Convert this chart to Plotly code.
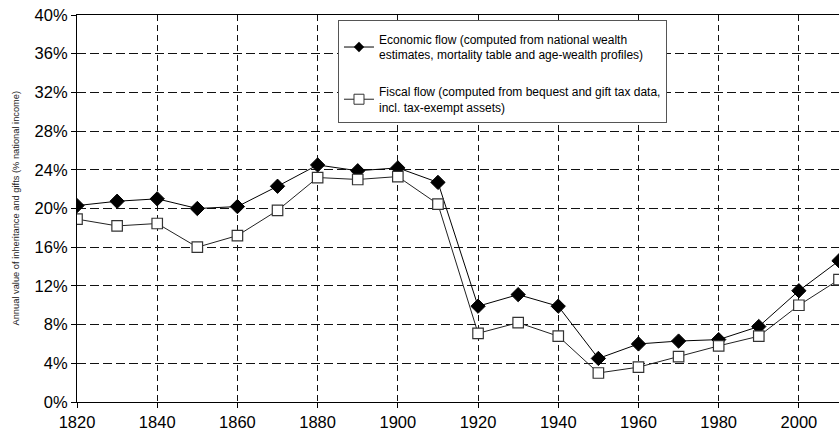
import plotly.graph_objects as go

years = [1820, 1830, 1840, 1850, 1860, 1870, 1880, 1890, 1900, 1910,
         1920, 1930, 1940, 1950, 1960, 1970, 1980, 1990, 2000, 2010]
economic_flow = [20.3, 20.75, 21.0, 20.0, 20.2, 22.3, 24.5, 23.9, 24.2, 22.7,
                 9.9, 11.1, 9.9, 4.5, 6.0, 6.3, 6.45, 7.8, 11.5, 14.6]
fiscal_flow = [18.9, 18.2, 18.45, 16.0, 17.2, 19.8, 23.2, 23.0, 23.3, 20.45,
               7.1, 8.2, 6.8, 3.0, 3.6, 4.7, 5.8, 6.8, 10.0, 12.65]
economic_name = "Economic flow (computed from national wealth<br>estimates, mortality table and age-wealth profiles)"
fiscal_name = "Fiscal flow (computed from bequest and gift tax data,<br>incl. tax-exempt assets)"
y_title = "Annual value of inheritance and gifts (% national income)"
y_ticks = list(range(0, 41, 4))
x_ticks = list(range(1820, 2011, 20))

FONT = "Arial, Liberation Sans, sans-serif"

fig = go.Figure()
fig.add_trace(go.Scatter(
    x=years, y=economic_flow, name=economic_name, mode="lines+markers",
    showlegend=False,
    line=dict(color="black", width=1),
    marker=dict(symbol="diamond", size=11, color="black", line=dict(color="black", width=1)),
))
fig.add_trace(go.Scatter(
    x=years, y=fiscal_flow, name=fiscal_name, mode="lines+markers",
    showlegend=False,
    line=dict(color="#222222", width=1),
    marker=dict(symbol="square", size=10.5, color="white", line=dict(color="#333333", width=1.2)),
))
# legend-only entries with smaller symbols, as in the reference legend
fig.add_trace(go.Scatter(
    x=[None], y=[None], name=economic_name, mode="lines+markers", legendgroup="a",
    line=dict(color="black", width=1),
    marker=dict(symbol="diamond", size=8, color="black"),
))
fig.add_trace(go.Scatter(
    x=[None], y=[None], name=fiscal_name, mode="lines+markers", legendgroup="b",
    line=dict(color="#222222", width=1),
    marker=dict(symbol="square", size=10, color="white", line=dict(color="#333333", width=1)),
))

fig.update_layout(
    width=839, height=431,
    margin=dict(l=77, r=0, t=15, b=29, autoexpand=False),
    paper_bgcolor="white", plot_bgcolor="white",
    font=dict(family=FONT, color="black"),
    legend=dict(
        x=0.3425, y=0.987, xanchor="left", yanchor="top",
        bgcolor="white", bordercolor="#555555", borderwidth=1,
        font=dict(size=12, family=FONT),
        tracegroupgap=18, itemwidth=30,
        title=dict(text=" ", font=dict(size=3)),
    ),
    showlegend=True,
    annotations=[dict(
        text=y_title, textangle=-90, xref="paper", yref="paper",
        x=-(77 - 15) / 762, y=0.5, xanchor="center", yanchor="middle",
        showarrow=False, font=dict(size=9.3, color="#222222", family=FONT),
    )],
)
fig.update_xaxes(
    range=[1820, 2010], tickvals=x_ticks, ticktext=[str(v) for v in x_ticks],
    showgrid=True, gridcolor="#111111", gridwidth=1, griddash="6px,4px",
    showline=True, linecolor="black", linewidth=1.2, mirror=True,
    ticks="outside", ticklen=5, tickcolor="black",
    tickfont=dict(size=16.5), zeroline=False, automargin=False,
)
fig.update_yaxes(
    range=[0, 40], tickvals=y_ticks, ticktext=[f"{v}%" for v in y_ticks],
    showgrid=True, gridcolor="#111111", gridwidth=1, griddash="9px,4px",
    showline=True, linecolor="black", linewidth=1.2,
    ticks="outside", ticklen=5, tickcolor="black",
    tickfont=dict(size=16.5), zeroline=False, automargin=False,
)

fig.write_html("out.html", config={"displayModeBar": False})

with open("out.html", "r", encoding="utf-8") as f:
    html = f.read()
html = html.replace("<head>", "<head><style>html,body{margin:0;padding:0;overflow:hidden;}</style>", 1)
with open("out.html", "w", encoding="utf-8") as f:
    f.write(html)
